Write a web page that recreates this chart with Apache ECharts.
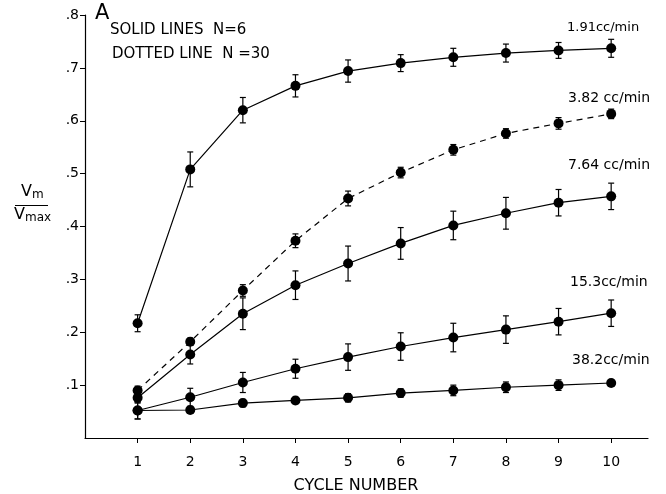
<!DOCTYPE html>
<html>
<head>
<meta charset="utf-8">
<script src="https://cdn.jsdelivr.net/npm/echarts@6/dist/echarts.min.js"></script>
<style>html,body{margin:0;padding:0;background:#fff}#c{width:666px;height:494px}</style>
</head>
<body>
<div id="c"></div>
<script>
const cycles = [1, 2, 3, 4, 5, 6, 7, 8, 9, 10];
const yTicks = [0.1, 0.2, 0.3, 0.4, 0.5, 0.6, 0.7, 0.8];
const seriesNames = ['1.91cc/min', '3.82 cc/min', '7.64 cc/min', '15.3cc/min', '38.2cc/min'];
const v191 = [0.217, 0.508, 0.620, 0.666, 0.694, 0.709, 0.720, 0.728, 0.733, 0.737];
const e191 = [0.016, 0.033, 0.024, 0.021, 0.021, 0.016, 0.017, 0.017, 0.015, 0.017];
const v382 = [0.090, 0.182, 0.279, 0.373, 0.453, 0.502, 0.545, 0.576, 0.595, 0.613];
const e382 = [0.008, 0.007, 0.011, 0.013, 0.014, 0.010, 0.010, 0.009, 0.011, 0.009];
const v764 = [0.076, 0.158, 0.235, 0.289, 0.330, 0.368, 0.402, 0.425, 0.445, 0.457];
const e764 = [0.010, 0.018, 0.030, 0.027, 0.033, 0.030, 0.027, 0.030, 0.025, 0.025];
const v153 = [0.052, 0.077, 0.105, 0.131, 0.153, 0.173, 0.190, 0.205, 0.220, 0.236];
const e153 = [0.016, 0.017, 0.019, 0.018, 0.025, 0.026, 0.027, 0.026, 0.025, 0.025];
const v382b = [0.052, 0.053, 0.066, 0.071, 0.076, 0.085, 0.090, 0.096, 0.100, 0.104];
const e382b = [0.016, 0.006, 0.007, 0.006, 0.008, 0.008, 0.010, 0.010, 0.010, 0.006];

const FONT = 'DejaVu Sans';
const all = [
  {name: seriesNames[0], v: v191, e: e191, dashed: false},
  {name: seriesNames[1], v: v382, e: e382, dashed: true},
  {name: seriesNames[2], v: v764, e: e764, dashed: false},
  {name: seriesNames[3], v: v153, e: e153, dashed: false},
  {name: seriesNames[4], v: v382b, e: e382b, dashed: false}
];

function errItem(params, api) {
  const x = api.value(0), y = api.value(1), e = api.value(2);
  const top = api.coord([x, y + e]);
  const bot = api.coord([x, y - e]);
  const hw = 3;
  const st = {stroke: '#000', lineWidth: 1.2};
  return {type: 'group', children: [
    {type: 'line', shape: {x1: top[0], y1: top[1], x2: bot[0], y2: bot[1]}, style: st},
    {type: 'line', shape: {x1: top[0] - hw, y1: top[1], x2: top[0] + hw, y2: top[1]}, style: st},
    {type: 'line', shape: {x1: bot[0] - hw, y1: bot[1], x2: bot[0] + hw, y2: bot[1]}, style: st}
  ]};
}

const series = [];
all.forEach(s => {
  series.push({
    type: 'custom', name: s.name + ' err', renderItem: errItem, silent: true,
    data: cycles.map((c, i) => [c, s.v[i], s.e[i]]), z: 2
  });
});
all.forEach(s => {
  series.push({
    type: 'line', name: s.name, data: cycles.map((c, i) => [c, s.v[i]]),
    symbol: 'circle', symbolSize: 10, itemStyle: {color: '#000'},
    lineStyle: {color: '#000', width: 1.2, type: s.dashed ? [6, 5] : 'solid'},
    z: 3, animation: false
  });
});

const labelPos = [[567, 21], [568, 91], [568, 158], [570, 275], [572, 353]];
const labelSize = [13, 14, 14, 14, 14];
const graphics = [
  {type: 'text', left: 95, top: 3, style: {text: 'A', font: '21px ' + FONT, fill: '#000'}},
  {type: 'text', left: 110, top: 23, style: {text: 'SOLID LINES  N=6', font: '15px ' + FONT, fill: '#000'}},
  {type: 'text', left: 112, top: 47, style: {text: 'DOTTED LINE  N =30', font: '15px ' + FONT, fill: '#000'}},
  {type: 'text', left: 21, top: 184, style: {rich: {a: {font: '16px ' + FONT}, b: {font: '12px ' + FONT, padding: [6, 0, 0, 0]}}, text: '{a|V}{b|m}', fill: '#000'}},
  {type: 'line', shape: {x1: 15, y1: 205.5, x2: 48, y2: 205.5}, style: {stroke: '#000', lineWidth: 1.2}},
  {type: 'text', left: 14, top: 207, style: {rich: {a: {font: '16px ' + FONT}, b: {font: '12px ' + FONT, padding: [6, 0, 0, 0]}}, text: '{a|V}{b|max}', fill: '#000'}},
  {type: 'text', x: 356, y: 486, style: {text: 'CYCLE NUMBER', font: '16px ' + FONT, fill: '#000', align: 'center', verticalAlign: 'middle'}}
];
seriesNames.forEach((n, i) => {
  graphics.push({type: 'text', left: labelPos[i][0], top: labelPos[i][1], style: {text: n, font: labelSize[i] + 'px ' + FONT, fill: '#000'}});
});

const chart = echarts.init(document.getElementById('c'));
chart.setOption({
  animation: false,
  backgroundColor: '#fff',
  grid: {left: 85, top: 15, width: 563, bottom: 56, containLabel: false},
  xAxis: {
    type: 'value', min: 0, max: 10.7,
    axisLine: {lineStyle: {color: '#000', width: 1.2}},
    axisTick: {show: true, length: 5, customValues: cycles, lineStyle: {color: '#000'}},
    axisLabel: {customValues: cycles, color: '#000', fontFamily: FONT, fontSize: 14, margin: 17},
    splitLine: {show: false}
  },
  yAxis: {
    type: 'value', min: 0, max: 0.8,
    axisLine: {show: true, lineStyle: {color: '#000', width: 1.2}},
    axisTick: {show: true, length: 5, customValues: yTicks, lineStyle: {color: '#000'}},
    axisLabel: {customValues: yTicks, color: '#000', fontFamily: FONT, fontSize: 14, margin: 6,
      formatter: v => v.toFixed(1).replace(/^0/, '')},
    splitLine: {show: false}
  },
  graphic: graphics,
  series: series
});
</script>
</body>
</html>
